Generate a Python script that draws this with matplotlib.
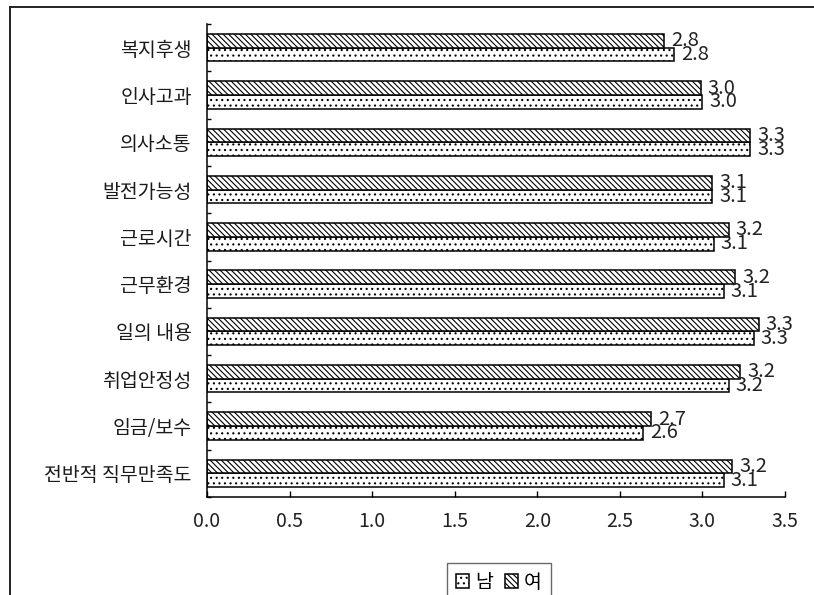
import matplotlib
matplotlib.use("Agg")
import matplotlib.pyplot as plt
from matplotlib.lines import Line2D
import numpy as np

plt.rcParams['font.family'] = ['Noto Sans CJK KR', 'DejaVu Sans']
plt.rcParams['hatch.linewidth'] = 0.8

categories = ['전반적 직무만족도', '임금/보수', '취업안정성', '일의 내용', '근무환경',
              '근로시간', '발전가능성', '의사소통', '인사고과', '복지후생']
male = [3.13, 2.64, 3.16, 3.31, 3.13, 3.07, 3.06, 3.29, 3.00, 2.83]
female = [3.18, 2.69, 3.23, 3.34, 3.20, 3.16, 3.06, 3.29, 2.99, 2.77]
series_names = ['남', '여']
xticks = [0.0, 0.5, 1.0, 1.5, 2.0, 2.5, 3.0, 3.5]

fig = plt.figure(figsize=(8.14, 5.95), dpi=100)
ax = fig.add_axes([207 / 814, 1 - 497 / 595, 578 / 814, 473 / 595])

y = np.arange(len(categories))
h = 0.29
bars_m = ax.barh(y - h / 2, male, height=h, color='white', edgecolor='black',
                 linewidth=1.1, hatch='...', label=series_names[0])
bars_f = ax.barh(y + h / 2, female, height=h, color='white', edgecolor='black',
                 linewidth=1.1, hatch='\\\\\\\\\\\\', label=series_names[1])

for bars, vals in ((bars_f, female), (bars_m, male)):
    for b, v in zip(bars, vals):
        ax.annotate(f'{v:.1f}', xy=(v, b.get_y() + b.get_height() / 2),
                    xytext=(5, 0), textcoords='offset points',
                    ha='left', va='center', fontsize=14.5, color='#222222')

ax.set_xlim(0, 3.5)
ax.set_ylim(-0.5, len(categories) - 0.5)
ax.set_xticks(xticks)
ax.set_xticklabels([f'{t:.1f}' for t in xticks], fontsize=14, color='#222222')
ax.tick_params(axis='x', direction='in', length=4, width=1, pad=10)

ax.set_yticks(y)
ax.set_yticklabels(categories, fontsize=14, color='#1a1a1a')
ax.set_yticks(np.arange(len(categories) + 1) - 0.5, minor=True)
ax.tick_params(axis='y', which='major', length=0, pad=11)
ax.tick_params(axis='y', which='minor', direction='in', length=3, width=1)

for s in ('top', 'right'):
    ax.spines[s].set_visible(False)
for s in ('left', 'bottom'):
    ax.spines[s].set_linewidth(1.1)
    ax.spines[s].set_color('black')

leg = fig.legend(handles=[bars_m, bars_f], labels=series_names, ncol=2,
                 loc='upper left', bbox_to_anchor=(447 / 814, 1 - 563 / 595),
                 frameon=True, fancybox=False, fontsize=14,
                 handlelength=0.7, handleheight=0.7, handletextpad=0.3,
                 columnspacing=0.6, borderpad=0.45, borderaxespad=0)
leg.get_frame().set_edgecolor('#444444')
leg.get_frame().set_linewidth(1.0)

# outer frame lines along the top and left edges
fig.add_artist(Line2D([9.5 / 814, 1.0], [1 - 6.5 / 595, 1 - 6.5 / 595],
                      transform=fig.transFigure, color='#222222', lw=1.4))
fig.add_artist(Line2D([9.5 / 814, 9.5 / 814], [0.0, 1 - 6.5 / 595],
                      transform=fig.transFigure, color='#222222', lw=1.4))

fig.savefig('out.png', dpi=100)
